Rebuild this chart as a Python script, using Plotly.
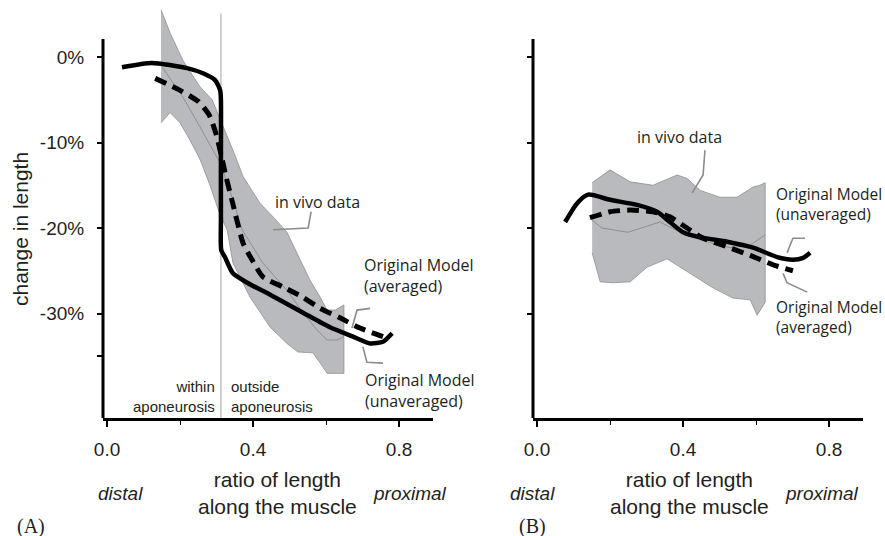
import plotly.graph_objects as go

W, H = 885, 536

# ---------------- data (ratio along muscle, % change in length) ----------------
# Panel A
a_band_upper_x = [0.148, 0.173, 0.208, 0.255, 0.288, 0.312, 0.345, 0.373, 0.419, 0.455, 0.493, 0.529, 0.556, 0.584, 0.603, 0.625, 0.649]
a_band_upper_y = [5.5, 2.8, -0.4, -3.5, -5.0, -7.4, -10.9, -14.0, -17.1, -18.7, -20.5, -23.7, -26.1, -28.1, -29.6, -29.6, -29.0]
a_band_lower_x = [0.148, 0.173, 0.200, 0.227, 0.255, 0.282, 0.310, 0.329, 0.345, 0.392, 0.447, 0.493, 0.523, 0.564, 0.584, 0.603, 0.649]
a_band_lower_y = [-7.7, -6.5, -7.7, -9.7, -12.0, -15.0, -18.5, -20.2, -24.1, -28.1, -31.6, -33.5, -34.5, -34.6, -35.8, -37.0, -37.0]
a_mean_x = [0.153, 0.208, 0.255, 0.310, 0.345, 0.370, 0.427, 0.493, 0.537, 0.575, 0.603, 0.630, 0.649]
a_mean_y = [-1.3, -4.7, -8.2, -12.4, -16.7, -20.2, -24.1, -27.3, -29.9, -31.9, -33.1, -33.1, -32.7]
a_unavg_x = [0.041, 0.123, 0.219, 0.263, 0.296, 0.310, 0.312, 0.312, 0.312, 0.313, 0.323, 0.345, 0.384, 0.447, 0.537, 0.611, 0.674, 0.721, 0.756, 0.781]
a_unavg_y = [-1.2, -0.7, -1.3, -1.9, -2.7, -3.9, -5.0, -12.0, -19.0, -22.6, -23.4, -25.3, -26.4, -27.8, -29.9, -31.6, -32.7, -33.5, -33.3, -32.3]
a_avg_x = [0.132, 0.200, 0.250, 0.280, 0.298, 0.313, 0.326, 0.342, 0.373, 0.397, 0.427, 0.482, 0.537, 0.584, 0.638, 0.693, 0.756]
a_avg_y = [-2.5, -3.9, -5.2, -6.8, -8.9, -11.5, -14.0, -16.7, -21.8, -23.7, -25.7, -26.9, -28.1, -29.4, -30.5, -31.7, -32.7]
aponeurosis_x = 0.312

# Panel B
b_band_upper_x = [0.151, 0.200, 0.255, 0.318, 0.384, 0.411, 0.447, 0.501, 0.548, 0.592, 0.611, 0.625]
b_band_upper_y = [-14.7, -13.2, -14.6, -15.0, -13.8, -14.2, -15.6, -16.4, -16.4, -15.2, -15.0, -14.7]
b_band_lower_x = [0.151, 0.173, 0.208, 0.255, 0.301, 0.356, 0.392, 0.438, 0.482, 0.537, 0.584, 0.603, 0.625]
b_band_lower_y = [-22.9, -26.3, -26.4, -26.3, -24.6, -23.6, -24.6, -25.8, -27.0, -28.2, -28.4, -30.2, -28.7]
b_mean_x = [0.151, 0.178, 0.249, 0.337, 0.392, 0.447, 0.529, 0.584, 0.625]
b_mean_y = [-19.1, -20.0, -20.5, -19.3, -20.5, -21.4, -22.3, -22.0, -20.8]
b_unavg_x = [0.077, 0.110, 0.140, 0.200, 0.274, 0.329, 0.364, 0.400, 0.447, 0.521, 0.592, 0.658, 0.701, 0.729, 0.748]
b_unavg_y = [-19.3, -17.1, -16.1, -16.7, -17.3, -18.1, -19.3, -20.5, -21.1, -21.6, -22.3, -23.4, -23.7, -23.5, -22.9]
b_avg_x = [0.145, 0.200, 0.255, 0.318, 0.364, 0.411, 0.455, 0.521, 0.584, 0.647, 0.701]
b_avg_y = [-18.8, -18.1, -17.9, -18.1, -18.7, -20.0, -21.2, -22.2, -23.2, -24.3, -25.0]

y_tickvals_a = [0, -10, -20, -30, -35]
y_ticktext_a = ["0%", "-10%", "-20%", "-30%", ""]
y_tickvals_b = [0, -10, -20, -30]
x_tickvals = [0.0, 0.4, 0.8]
x_ticktext = ["0.0", "0.4", "0.8"]

# ---------------- styling ----------------
TXT = "#231f20"
BAND = "#b9babd"
EDGE = "#8f8f8f"
LEAD = "#8c8c8c"
AX_FONT = "Liberation Sans"
ANN_FONT = "Open Sans"

def px(xp):
    return xp / W

def py(yp):
    return 1 - yp / H

fig = go.Figure()

def add_panel(xa, ya, bux, buy, blx, bly, mx, my, ux, uy, avx, avy):
    fig.add_trace(go.Scatter(x=bux + blx[::-1], y=buy + bly[::-1], fill="toself",
                             fillcolor=BAND, mode="lines", line=dict(color=EDGE, width=0.8),
                             xaxis=xa, yaxis=ya, hoverinfo="skip", showlegend=False))
    fig.add_trace(go.Scatter(x=mx, y=my, mode="lines", line=dict(color=EDGE, width=1),
                             xaxis=xa, yaxis=ya, showlegend=False))
    fig.add_trace(go.Scatter(x=avx, y=avy, mode="lines",
                             line=dict(color="black", width=5, dash="12px,7px", shape="spline", smoothing=0.6),
                             xaxis=xa, yaxis=ya, showlegend=False))
    fig.add_trace(go.Scatter(x=ux, y=uy, mode="lines",
                             line=dict(color="black", width=4.5, shape="spline", smoothing=0.6),
                             xaxis=xa, yaxis=ya, showlegend=False))

add_panel("x", "y", a_band_upper_x, a_band_upper_y, a_band_lower_x, a_band_lower_y,
          a_mean_x, a_mean_y, a_unavg_x, a_unavg_y, a_avg_x, a_avg_y)
add_panel("x2", "y2", b_band_upper_x, b_band_upper_y, b_band_lower_x, b_band_lower_y,
          b_mean_x, b_mean_y, b_unavg_x, b_unavg_y, b_avg_x, b_avg_y)

yr = [-42.22, 6.08]
xr = [-0.011, 0.893]
ydom = [py(418), py(5)]

xcommon = dict(range=xr, showgrid=False, zeroline=False, showline=True, linecolor="black",
               linewidth=3, ticks="outside", ticklen=6, tickwidth=2, tickcolor="black",
               tickvals=x_tickvals, ticktext=x_ticktext, automargin=False,
               minor=dict(tickvals=[0.2, 0.6], ticks="outside", ticklen=4, tickwidth=1.2, tickcolor="black"),
               tickfont=dict(family=AX_FONT, size=19, color=TXT), ticklabelstandoff=6, fixedrange=True)
ycommon = dict(range=yr, showgrid=False, zeroline=False, showline=False, ticks="outside",
               ticklen=5, tickwidth=2, tickcolor="black", automargin=False,
               tickfont=dict(family=AX_FONT, size=19, color=TXT), fixedrange=True)

fig.update_layout(
    width=W, height=H, margin=dict(l=0, r=0, t=0, b=0),
    paper_bgcolor="white", plot_bgcolor="white", showlegend=False,
    xaxis=dict(domain=[px(103), px(433)], anchor="y", **xcommon),
    yaxis=dict(domain=ydom, anchor="x", tickvals=y_tickvals_a, ticktext=y_ticktext_a,
               ticklabelstandoff=9, **ycommon),
    xaxis2=dict(domain=[px(533), px(863)], anchor="y2", **xcommon),
    yaxis2=dict(domain=ydom, anchor="x2", tickvals=y_tickvals_b, showticklabels=False, **ycommon),
)

shapes = []
# y axis lines (stop at +2%)
for xref, yref in (("x domain", "y"), ("x2 domain", "y2")):
    shapes.append(dict(type="line", xref=xref, yref=yref, x0=0, x1=0, y0=yr[0], y1=2.1,
                       line=dict(color="black", width=3)))
# aponeurosis boundary
shapes.append(dict(type="line", xref="x", yref="y", x0=aponeurosis_x, x1=aponeurosis_x,
                   y0=yr[0], y1=5.1, line=dict(color="#c3c3c3", width=1.5), layer="below"))

# leader lines (data coords)
leaders = [
    ("x", "y", [0.455, 0.551, 0.559], [-20.2, -20.0, -18.1]),
    ("x", "y", [0.671, 0.685, 0.721], [-31.7, -29.6, -29.4]),
    ("x", "y", [0.701, 0.712, 0.756], [-33.9, -35.7, -35.8]),
    ("x2", "y2", [0.460, 0.455, 0.425], [-10.9, -13.8, -15.9]),
    ("x2", "y2", [0.734, 0.701, 0.685], [-21.2, -21.2, -22.9]),
    ("x2", "y2", [0.674, 0.685, 0.740], [-25.3, -26.4, -27.5]),
]
for xa, ya, lx, ly in leaders:
    path = "M %f,%f L %f,%f L %f,%f" % (lx[0], ly[0], lx[1], ly[1], lx[2], ly[2])
    shapes.append(dict(type="path", xref=xa, yref=ya, path=path,
                       line=dict(color=LEAD, width=1.6)))
fig.update_layout(shapes=shapes)

ann = []
def note(text, x, y, xref, yref, xanchor="left", size=16, family=ANN_FONT, align="left", **kw):
    ann.append(dict(text=text, x=x, y=y, xref=xref, yref=yref, xanchor=xanchor, yanchor="middle",
                    showarrow=False, align=align,
                    font=dict(family=family, size=size, color=TXT), **kw))

# Panel A notes
note("in vivo data", 0.455, -17.0, "x", "y")
note("Original Model<br>(averaged)", 0.699, -25.6, "x", "y")
note("Original Model<br>(unaveraged)", 0.701, -39.0, "x", "y")
note("within<br>aponeurosis", 0.301, -39.7, "x", "y", xanchor="right", align="right", size=15, family=AX_FONT)
note("outside<br>aponeurosis", 0.334, -39.7, "x", "y", xanchor="left", align="left", size=15, family=AX_FONT)
# Panel B notes
note("in vivo data", 0.268, -9.4, "x2", "y2")
note("Original Model<br>(unaveraged)", 0.650, -17.2, "x2", "y2", size=15.5)
note("Original Model<br>(averaged)", 0.650, -30.4, "x2", "y2", size=15.5)

# axis titles and side labels
note("change in length", px(20), py(229), "paper", "paper", xanchor="center", size=21,
     family=AX_FONT, textangle=-90)
for cx, dx, prx, lab, lx in ((277, 120, 410, "(A)", 31), (689, 532, 822, "(B)", 532)):
    note("ratio of length<br>along the muscle", px(cx), py(493), "paper", "paper",
         xanchor="center", align="center", size=21, family=AX_FONT)
    note("<i>distal</i>", px(dx), py(493), "paper", "paper", xanchor="center", size=19, family=AX_FONT)
    note("<i>proximal</i>", px(prx), py(493), "paper", "paper", xanchor="center", size=19, family=AX_FONT)
    note(lab, px(lx), py(526), "paper", "paper", xanchor="center", size=20,
         family="Liberation Serif")
fig.update_layout(annotations=ann)

fig.write_html("out.html", config={"displayModeBar": False},
               post_script="document.body.style.margin='0';document.body.style.overflow='hidden';")
